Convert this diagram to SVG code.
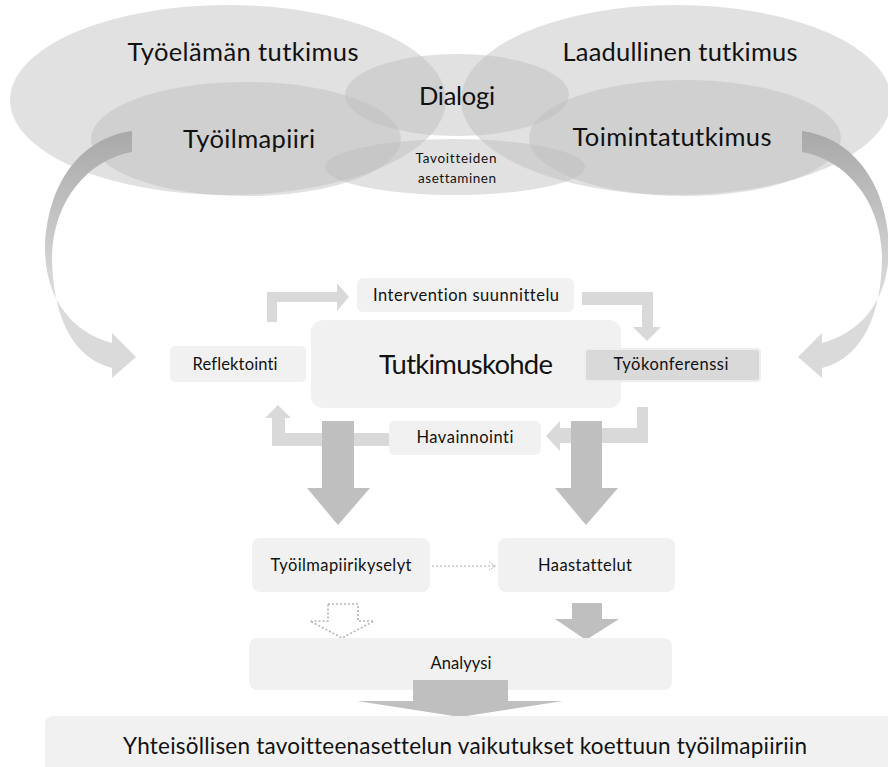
<svg xmlns="http://www.w3.org/2000/svg" width="888" height="767" viewBox="0 0 888 767">
<defs>
<style>
.ell{fill:#bdbdbd;fill-opacity:0.45}
.t{font-family:Lato,"Open Sans","Liberation Sans",sans-serif;fill:#111;text-anchor:middle;font-variant-ligatures:none}
.box{fill:#f1f1f1}
.loop{fill:#d9d9d9}
.dark{fill:#bfbfbf}
</style>
<linearGradient id="cg" gradientUnits="userSpaceOnUse" x1="0" y1="130" x2="0" y2="290">
<stop offset="0" stop-color="#a8a8a8"/>
<stop offset="1" stop-color="#dadada"/>
</linearGradient>
<marker id="open" markerWidth="10" markerHeight="10" refX="8" refY="5" orient="auto" markerUnits="userSpaceOnUse">
<path d="M1 1 L8 5 L1 9" fill="none" stroke="#aaaaaa" stroke-width="1" stroke-dasharray="1.5,1.5"/>
</marker>
</defs>
<rect width="888" height="767" fill="#ffffff"/>

<g id="ellipses">
<g id="tyoelaman"><ellipse class="ell" cx="228" cy="100" rx="218" ry="95"/></g>
<g id="laadullinen"><ellipse class="ell" cx="676" cy="100" rx="215" ry="95"/></g>
<g id="tyoilmapiiri"><ellipse class="ell" cx="246" cy="139" rx="155" ry="57"/></g>
<g id="toimintatutkimus"><ellipse class="ell" cx="685" cy="138" rx="156" ry="58"/></g>
<g id="dialogi"><ellipse class="ell" cx="457" cy="95" rx="112" ry="41"/></g>
<g id="tavoitteiden"><ellipse class="ell" cx="455" cy="167" rx="130" ry="28"/></g>
</g>
<g id="ellipse-labels">
<text class="t" x="243" y="61" font-size="25.5" textLength="231">Työelämän tutkimus</text>
<text class="t" x="680" y="61" font-size="25.5" textLength="235">Laadullinen tutkimus</text>
<text class="t" x="457" y="105" font-size="25.5" textLength="76">Dialogi</text>
<text class="t" x="249" y="148" font-size="25.5" textLength="132">Työilmapiiri</text>
<text class="t" x="672" y="146" font-size="25.5" textLength="199">Toimintatutkimus</text>
<text class="t" x="456" y="163" font-size="13.5" textLength="81">Tavoitteiden</text>
<text class="t" x="457" y="183" font-size="13.5" textLength="78">asettaminen</text>
</g>

<g id="connectors">
<path id="curve-left" fill="url(#cg)" d="M132 131 C80 138 46 185 45 250 C46 300 72 332 112 343 L112 333 L136 357 L112 378 L112 368 C72 358 52 315 52 255 C54 200 88 160 132 152 Z"/>
<path id="curve-right" fill="url(#cg)" transform="translate(934,0) scale(-1,1)" d="M132 131 C80 138 46 185 45 250 C46 300 72 332 112 343 L112 333 L136 357 L112 378 L112 368 C72 358 52 315 52 255 C54 200 88 160 132 152 Z"/>
<path class="loop" d="M267 322 L267 292 L337 292 L337 283 L349 297 L337 311 L337 302 L277 302 L277 322 Z"/>
<path class="loop" d="M582 292 L653 292 L653 327 L661 327 L647 341 L633 327 L642 327 L642 305 L582 305 Z"/>
<path class="loop" d="M637 407 L648 407 L648 443 L560 443 L560 451 L546 436 L560 421 L560 428 L637 428 Z"/>
<path class="loop" d="M389 433 L285 433 L285 418 L291 418 L278 405 L265 418 L272 418 L272 446 L389 446 Z"/>
<path class="dark" d="M322 421 L354 421 L354 488 L370 488 L338 525 L307 488 L322 488 Z"/>
<path class="dark" d="M571 421 L602 421 L602 488 L618 488 L586 525 L555 488 L571 488 Z"/>
<line x1="432" y1="566" x2="496" y2="566" stroke="#aaaaaa" stroke-width="1" stroke-dasharray="2,2" marker-end="url(#open)"/>
<path d="M328 604 L358 604 L358 621 L374 621 L342 638 L310 621 L328 621 Z" fill="none" stroke="#b5b5b5" stroke-width="1.6" stroke-dasharray="2,2"/>
<path class="dark" d="M572 603 L602 603 L602 619 L619 619 L586 640 L555 619 L572 619 Z"/>
</g>

<g id="intervention"><rect class="box" x="357" y="278" width="217" height="34" rx="6"/><text class="t" x="466" y="301" font-size="16.5" textLength="186">Intervention suunnittelu</text></g>
<g id="tutkimuskohde"><rect class="box" x="311" y="320" width="310" height="88" rx="12"/><text class="t" x="466" y="374" font-size="27.5" textLength="174">Tutkimuskohde</text></g>
<g id="reflektointi"><rect class="box" x="170" y="346" width="136" height="36" rx="5"/><text class="t" x="235" y="370" font-size="16.5" textLength="85">Reflektointi</text></g>
<g id="tyokonferenssi"><rect x="585" y="349" width="175" height="32" rx="3" fill="#d9d9d9" stroke="#eeeeee" stroke-width="2"/><text class="t" x="671" y="370" font-size="16.5" textLength="115">Työkonferenssi</text></g>
<g id="havainnointi"><rect class="box" x="389" y="421" width="152" height="34" rx="6"/><text class="t" x="465" y="443" font-size="16.5" textLength="97">Havainnointi</text></g>
<g id="tyoilmapiirikyselyt"><rect class="box" x="252" y="538" width="178" height="54" rx="8"/><text class="t" x="341" y="571" font-size="16.5" textLength="141">Työilmapiirikyselyt</text></g>
<g id="haastattelut"><rect class="box" x="498" y="538" width="177" height="54" rx="8"/><text class="t" x="585" y="571" font-size="16.5" textLength="94">Haastattelut</text></g>
<g id="analyysi"><rect class="box" x="249" y="638" width="423" height="52" rx="8"/><text class="t" x="461" y="669" font-size="16.5" textLength="61">Analyysi</text></g>
<path class="dark" d="M413 680 L508 680 L508 701 L563 701 L460 717 L357 701 L413 701 Z"/>
<g id="yhteisollisen"><rect class="box" x="45" y="716" width="860" height="60" rx="8"/><text class="t" x="465" y="754" font-size="22.5" textLength="684">Yhteisöllisen tavoitteenasettelun vaikutukset koettuun työilmapiiriin</text></g>
</svg>
